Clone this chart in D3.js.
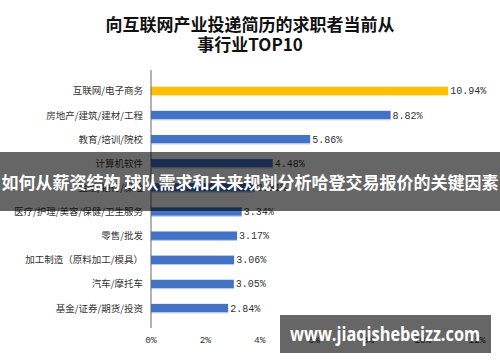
<!DOCTYPE html>
<html>
<head>
    <meta charset="utf-8">
    <script src="https://d3js.org/d3.v7.min.js"></script>
    <style>
        body { margin: 0; background: #fff; }
        svg { display: block; }
    </style>
</head>
<body>
    <div id="chart"></div>
    <script>
        // chart data
        var categories = ["互联网/电子商务", "房地产/建筑/建材/工程", "教育/培训/院校", "计算机软件",
            "金融/银行/保险", "医疗/护理/美容/保健/卫生服务", "零售/批发", "加工制造（原料加工/模具）",
            "汽车/摩托车", "基金/证券/期货/投资"];
        var values = [10.94, 8.82, 5.86, 4.48, 3.81, 3.34, 3.17, 3.06, 3.05, 2.84];
        var tickValues = [0, 2, 4, 6, 8, 10, 12];
        var titleLines = ["向互联网产业投递简历的求职者当前从", "事行业TOP10"];
        var bannerText = "如何从薪资结构 球队需求和未来规划分析哈登交易报价的关键因素";
        var watermark = "www.jiaqishebeizz.com";

        var width = 500, height = 362;

        var svg = d3.select("#chart").append("svg")
            .attr("width", width)
            .attr("height", height);

        var x = d3.scaleLinear().domain([0, 12]).range([151, 477]);
        var y = d3.scaleBand().domain(categories).range([71, 328]).padding(0.65);

        // title
        svg.selectAll(".title")
            .data(titleLines)
            .enter().append("text")
            .attr("x", 250)
            .attr("y", (d, i) => 31 + i * 20)
            .attr("text-anchor", "middle")
            .style("font-family", "'Noto Sans CJK SC', sans-serif")
            .style("font-weight", "bold")
            .style("font-size", "17px")
            .style("fill", "#111")
            .text(d => d);

        // bars
        svg.selectAll(".bar")
            .data(values)
            .enter().append("rect")
            .attr("x", x(0))
            .attr("y", (d, i) => y(categories[i]))
            .attr("width", d => x(d) - x(0))
            .attr("height", y.bandwidth())
            .attr("fill", (d, i) => i === 0 ? "#FFC000" : "#4472C4");

        // light edge under each bar
        svg.selectAll(".edge")
            .data(values)
            .enter().append("rect")
            .attr("x", x(0))
            .attr("y", (d, i) => y(categories[i]) + y.bandwidth())
            .attr("width", d => x(d) - x(0))
            .attr("height", 1)
            .attr("fill", (d, i) => i === 0 ? "#ffe699" : "#b4c7e7");

        // value labels
        svg.selectAll(".val")
            .data(values)
            .enter().append("text")
            .attr("x", d => x(d) + 2)
            .attr("y", (d, i) => y(categories[i]) + y.bandwidth() / 2 + 3.5)
            .style("font-family", "'Liberation Mono', monospace")
            .style("font-size", "10px")
            .style("fill", "#333")
            .text(d => d.toFixed(2) + "%");

        // category labels
        svg.selectAll(".cat")
            .data(categories)
            .enter().append("text")
            .attr("x", 143)
            .attr("y", d => y(d) + y.bandwidth() / 2 + 3.5)
            .attr("text-anchor", "end")
            .style("font-family", "'Noto Sans CJK SC', sans-serif")
            .style("font-size", "9.5px")
            .style("fill", "#333")
            .text(d => d);

        // axis line
        svg.append("line")
            .attr("x1", x(0)).attr("x2", x(0))
            .attr("y1", 70).attr("y2", 328)
            .attr("stroke", "#666")
            .attr("stroke-width", 1);

        // x tick labels
        svg.selectAll(".tick")
            .data(tickValues)
            .enter().append("text")
            .attr("x", d => x(d))
            .attr("y", 343)
            .attr("text-anchor", "middle")
            .style("font-family", "'Liberation Mono', monospace")
            .style("font-size", "9.5px")
            .style("fill", "#333")
            .text(d => d + "%");

        // overlay banner
        svg.append("rect")
            .attr("x", 0).attr("y", 152)
            .attr("width", width).attr("height", 59)
            .attr("fill", "rgba(0,0,0,0.6)");

        svg.append("text")
            .attr("x", 250)
            .attr("y", 189)
            .attr("text-anchor", "middle")
            .style("font-family", "'Noto Sans CJK SC', sans-serif")
            .style("font-weight", "bold")
            .style("font-size", "17px")
            .style("fill", "#fff")
            .text(bannerText);

        // watermark
        svg.append("rect")
            .attr("x", 280).attr("y", 315)
            .attr("width", 211).attr("height", 38)
            .attr("fill", "rgba(0,0,0,0.6)");

        svg.append("text")
            .attr("x", 290)
            .attr("y", 341)
            .attr("textLength", 190)
            .attr("lengthAdjust", "spacingAndGlyphs")
            .style("font-family", "'Open Sans', sans-serif")
            .style("font-weight", "bold")
            .style("font-size", "20px")
            .style("fill", "#fff")
            .text(watermark);
    </script>
</body>
</html>
